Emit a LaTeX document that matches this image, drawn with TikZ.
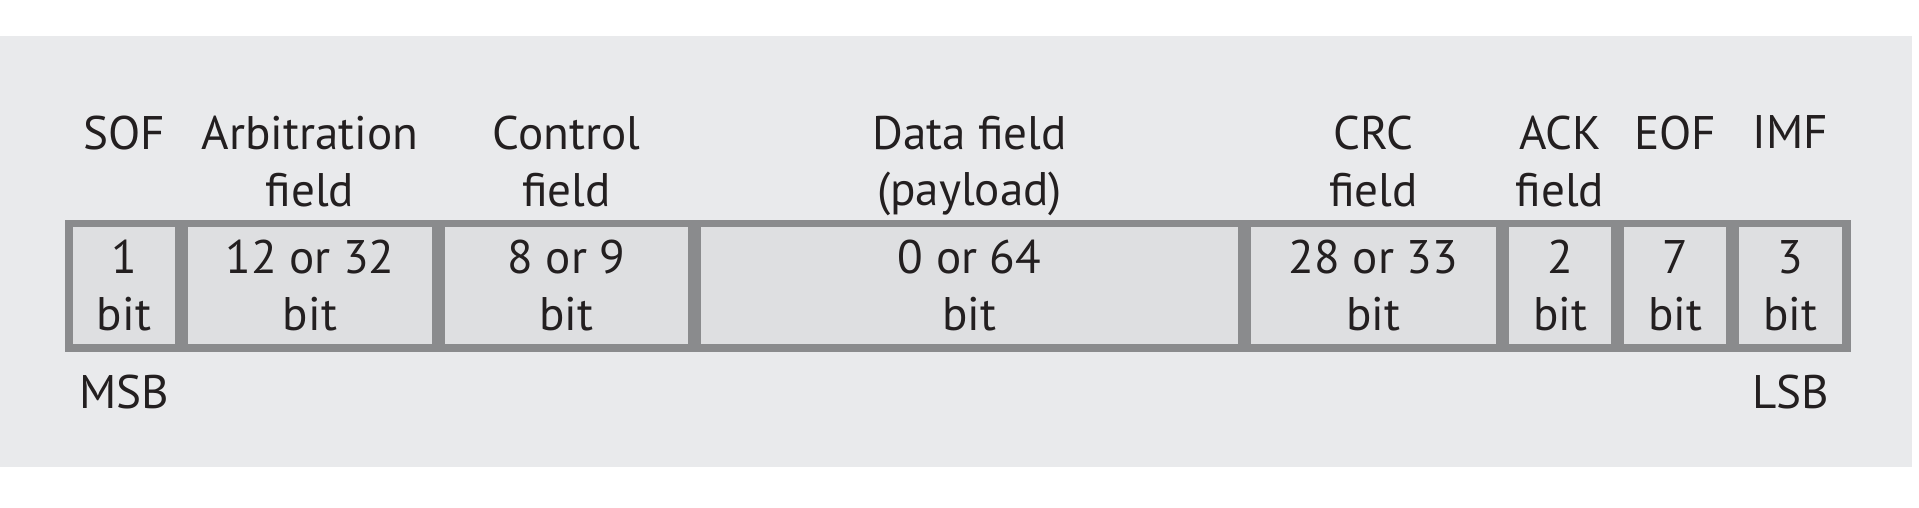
\documentclass[tikz,border=0pt]{standalone}
\usepackage{fontspec}
\setmainfont{PT Sans}
\usetikzlibrary{fit,positioning,backgrounds}
\definecolor{bggray}{RGB}{233,234,236}
\definecolor{cellgray}{RGB}{222,223,225}
\definecolor{framegray}{RGB}{138,139,141}
\definecolor{ink}{RGB}{35,31,32}

\begin{document}
\begin{tikzpicture}[font=\fontsize{13.4}{16.2}\selectfont, text=ink]
	\tikzstyle{cell}=[rectangle, fill=cellgray, inner sep=0pt, outer sep=0pt, minimum height=11.7mm, align=center, node distance=1.3mm]
	\tikzstyle{head}=[inner sep=0pt, align=center, anchor=north]
	\tikzstyle{frame}=[rectangle, fill=framegray, inner xsep=0.85mm, inner ysep=0.75mm]
	
	\useasboundingbox (0,0) rectangle (19.19,5.07);
	\coordinate (headtop) at (0,3.92);
	
	\node[cell, minimum width=10.2mm] at (1.24,2.215) (sof) {1\\bit};
	\node[cell, minimum width=24.4mm] (arb) [right=of sof] {12 or 32\\bit};
	\node[cell, minimum width=24.3mm] (ctrl) [right=of arb] {8 or 9\\bit};
	\node[cell, minimum width=53.7mm] (data) [right=of ctrl] {0 or 64\\bit};
	\node[cell, minimum width=24.5mm] (crc) [right=of data] {28 or 33\\bit};
	\node[cell, minimum width=10.2mm] (ack) [right=of crc] {2\\bit};
	\node[cell, minimum width=10.2mm] (eof) [right=of ack] {7\\bit};
	\node[cell, minimum width=10.3mm] (imf) [right=of eof] {3\\bit};
	
	\node[head] at (sof |- headtop) (hsof) {SOF};
	\node[head] at (arb |- headtop) (harb) {Arbitration\\field};
	\node[head] at (ctrl |- headtop) (hctrl) {Control\\field};
	\node[head] at (data |- headtop) (hdata) {Data field\\(payload)};
	\node[head] at (crc |- headtop) (hcrc) {CRC\\field};
	\node[head] at (ack |- headtop) (hack) {ACK\\field};
	\node[head] at (eof |- headtop) (heof) {EOF};
	\node[head] at (imf |- headtop) (himf) {IMF};
	
	\node[head] (msb) [below=3mm of sof] {MSB};
	\node[head] (lsb) [below=3mm of imf] {LSB};
	
	\begin{scope}[on background layer]
		\fill[bggray] (0,0.40) rectangle (19.12,4.71);
		\node[frame, fit= (sof) (imf)] (frm) {};
	\end{scope}
	
\end{tikzpicture}
\end{document}
